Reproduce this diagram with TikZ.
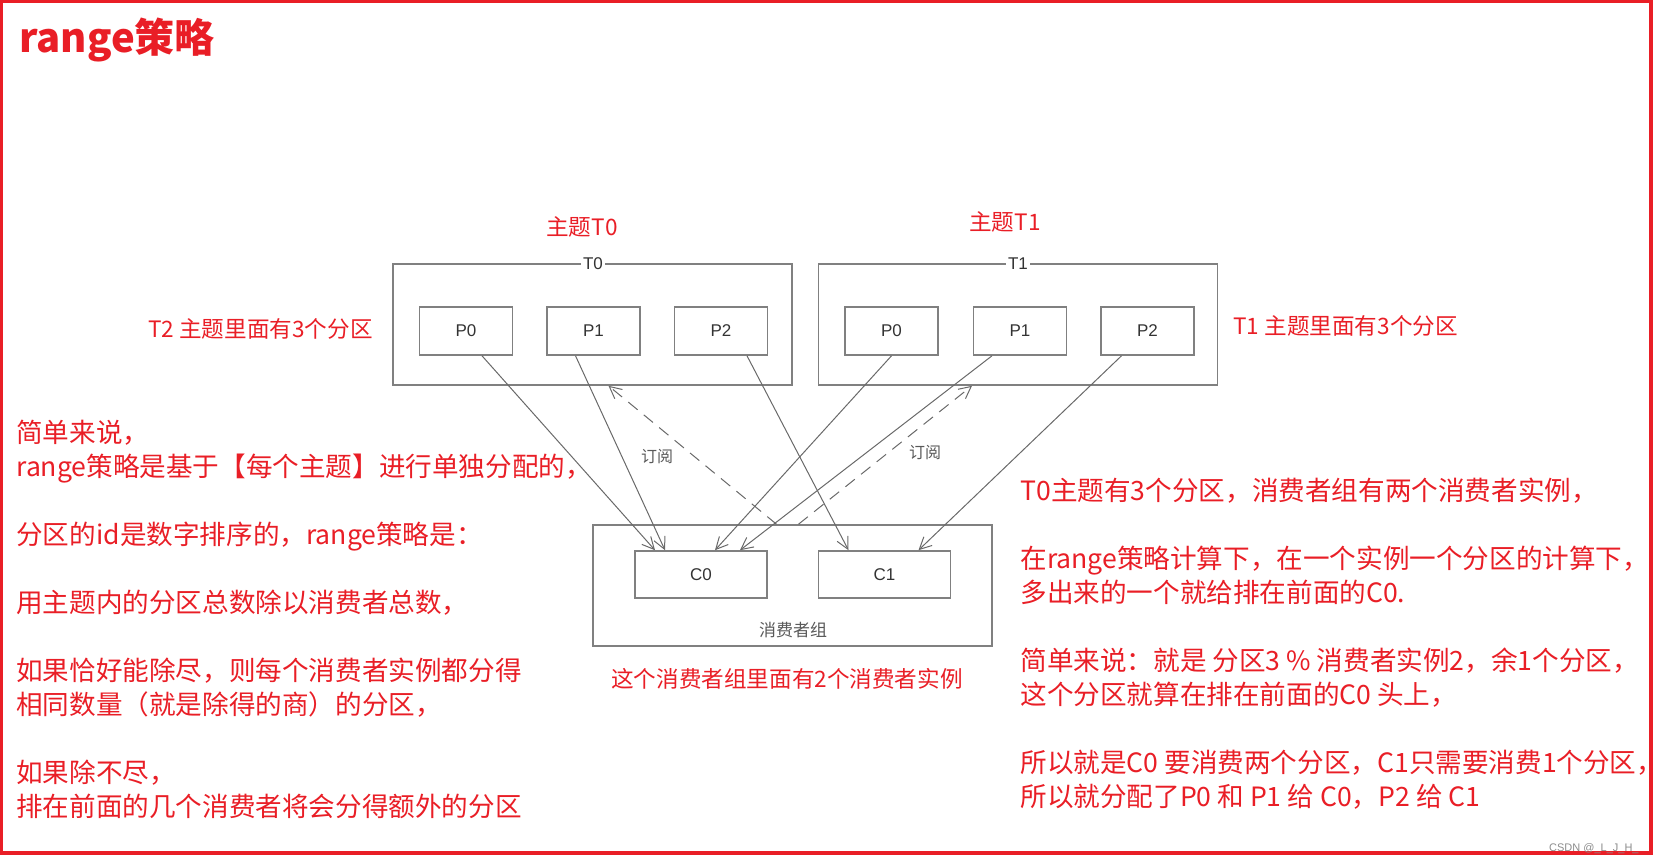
\documentclass[tikz,border=0pt]{standalone}
\usepackage{fontspec}
\setmainfont{Noto Sans CJK SC}
\newfontfamily\diagfont{Liberation Sans}
\usetikzlibrary{arrows.meta,positioning}
\definecolor{notered}{RGB}{233,30,38}
\definecolor{diaggray}{RGB}{105,105,105}
\tikzset{
  topic/.style={draw=black!50, line width=0.8pt, minimum width=199.5pt,
                minimum height=60.5pt, inner sep=0pt},
  part/.style={draw=black!50, line width=0.8pt, minimum width=46.5pt,
               minimum height=24pt, inner sep=0pt, text=black!80,
               font=\diagfont\fontsize{8.5}{10}\selectfont},
  cons/.style={part, minimum width=66pt, minimum height=23.5pt},
  tag/.style={fill=white, inner sep=1pt, text=black!80,
              font=\diagfont\fontsize{8.5}{10}\selectfont},
  graytag/.style={inner sep=1pt, text=black!65, font=\fontsize{8}{10}\selectfont},
  sub/.style={draw=diaggray, line width=0.5pt,
              -{Straight Barb[length=6pt,width=6pt]}},
  subback/.style={sub, dash pattern=on 6pt off 4pt},
  note/.style={text=notered, inner sep=0pt, font=\fontsize{11.3}{17}\selectfont},
  para/.style={note, align=left, font=\fontsize{13.3}{17}\selectfont},
}

\begin{document}
\begin{tikzpicture}[x=0.5pt, y=-0.5pt]
\useasboundingbox (0,0) rectangle (1655,866);
\draw[notered, line width=1.6pt] (1.5,1.5) rectangle (1651,853);

\node[text=notered, anchor=west, inner sep=0pt,
      font=\bfseries\fontsize{20}{24}\selectfont] (title) at (19,40) {range策略};

% topics and partitions
\node[topic] (t0box) at (592.5,324.5) {};
\node[topic] (t1box) at (1018,324.5) {};
\node[tag] (t0tag) at (593,264) {T0};
\node[tag] (t1tag) at (1018,264) {T1};

\node[part] (t0p0) at (466,331) {P0};
\node[part] (t0p1) at (593.5,331) {P1};
\node[part] (t0p2) at (721,331) {P2};
\node[part] (t1p0) at (891.5,331) {P0};
\node[part] (t1p1) at (1020,331) {P1};
\node[part] (t1p2) at (1147.5,331) {P2};

% consumer group
\node[topic] (grp) at (792.5,585.5) {};
\node[cons] (c0) at (701,574.5) {C0};
\node[cons] (c1) at (884.5,574.5) {C1};
\node[graytag, font=\fontsize{8.5}{10}\selectfont] (grptag) at (793,630) {消费者组};

\draw[sub] ([xshift=8pt]t0p0.south) -- ([xshift=-23pt]c0.north);
\draw[sub] ([xshift=-9pt]t0p1.south) -- ([xshift=-18pt]c0.north);
\draw[sub] ([xshift=13pt]t0p2.south) -- ([xshift=-18pt]c1.north);
\draw[sub] (t1p0.south) -- ([xshift=7pt]c0.north);
\draw[sub] ([xshift=-14pt]t1p1.south) -- ([xshift=19.5pt]c0.north);
\draw[sub] ([xshift=-13pt]t1p2.south) -- ([xshift=17pt]c1.north);
\draw[subback] ([xshift=-8pt]grp.north) -- ([xshift=8pt]t0box.south);
\draw[subback] ([xshift=3pt]grp.north) -- ([xshift=-23pt]t1box.south);
\node[graytag] (sub0) at (657,457) {订阅};
\node[graytag] (sub1) at (925,453) {订阅};

% red notes
\node[note] (t0note) at (582,227) {主题T0};
\node[note] (t1note) at (1005,222) {主题T1};
\node[note, anchor=east] (t2part) at (373,329) {T2 主题里面有3个分区};
\node[note, anchor=west] (t1part) at (1233,326) {T1 主题里面有3个分区};
\node[note] (grpnote) at (787,679) {这个消费者组里面有2个消费者实例};

\node[para, anchor=north west] (summary) at (16,420)
  {简单来说，\\
   range策略是基于【每个主题】进行单独分配的，\\[17pt]
   分区的id是数字排序的，range策略是：\\[17pt]
   用主题内的分区总数除以消费者总数，\\[17pt]
   如果恰好能除尽，则每个消费者实例都分得\\
   相同数量（就是除得的商）的分区，\\[17pt]
   如果除不尽，\\
   排在前面的几个消费者将会分得额外的分区};

\node[para, anchor=north west] (example) at (1020,478)
  {T0主题有3个分区，消费者组有两个消费者实例，\\[17pt]
   在range策略计算下，在一个实例一个分区的计算下，\\
   多出来的一个就给排在前面的C0.\\[17pt]
   简单来说：就是 分区3 \% 消费者实例2，余1个分区，\\
   这个分区就算在排在前面的C0 头上，\\[17pt]
   所以就是C0 要消费两个分区，C1只需要消费1个分区，\\
   所以就分配了P0 和 P1 给 C0，P2 给 C1};

\node[anchor=east, inner sep=0pt, text=black!45,
      font=\diagfont\fontsize{5.5}{6}\selectfont] (mark) at (1639,849) {CSDN @\_L\_J\_H\_};
\end{tikzpicture}
\end{document}
